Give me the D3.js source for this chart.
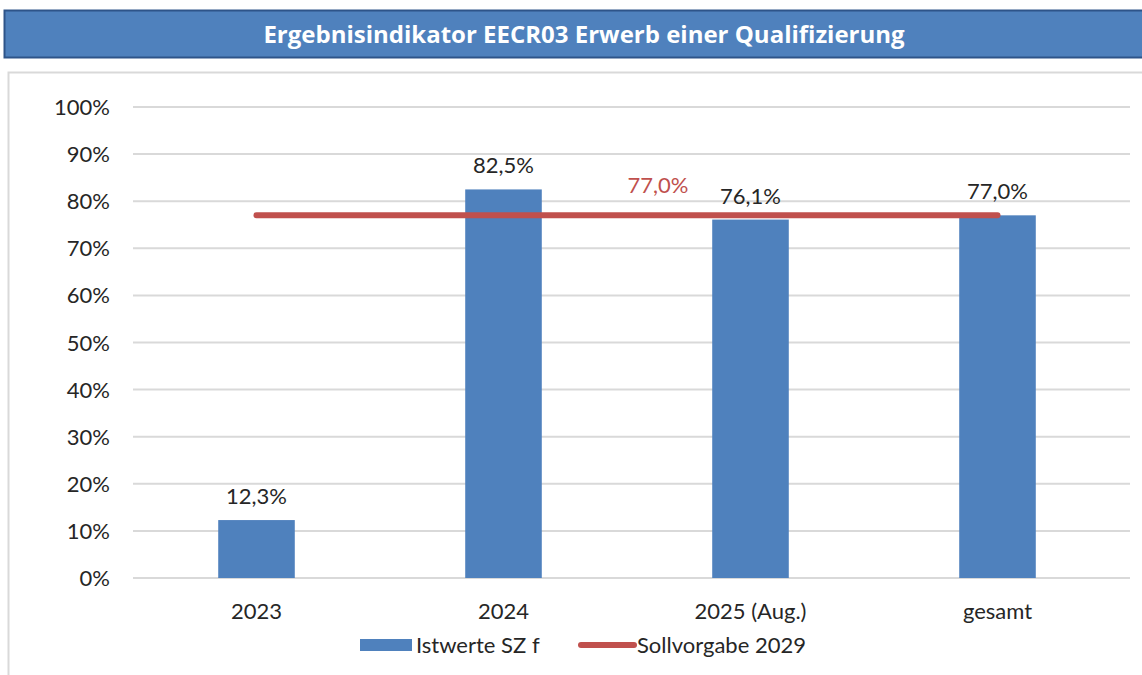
<!DOCTYPE html>
<html>
<head>
<meta charset="utf-8">
<script src="https://cdn.jsdelivr.net/npm/d3@7"></script>
<style>
  body { margin: 0; background: #fff; }
  text { font-family: Lato, "Open Sans", sans-serif; }
</style>
</head>
<body>
<svg id="chart" width="1142" height="675"></svg>
<script>
const categories = ["2023", "2024", "2025 (Aug.)", "gesamt"];
const istwerte = [12.3, 82.5, 76.1, 77.0];
const sollvorgabe = [77.0, 77.0, 77.0, 77.0];
const yTicks = [0, 10, 20, 30, 40, 50, 60, 70, 80, 90, 100];

const svg = d3.select("#chart");
const fmt = v => v.toFixed(1).replace(".", ",") + "%";
const fs = 22;

// title band
svg.append("rect")
  .attr("x", 4.5).attr("y", 10.5)
  .attr("width", 1140).attr("height", 47)
  .attr("fill", "#4f81bd")
  .attr("stroke", "#2e5489")
  .attr("stroke-width", 2);

svg.append("text")
  .text("Ergebnisindikator EECR03 Erwerb einer Qualifizierung")
  .attr("x", 584).attr("y", 43)
  .attr("text-anchor", "middle")
  .style("font-family", "'Open Sans', sans-serif")
  .style("font-weight", "bold")
  .style("font-size", "24px")
  .attr("fill", "#fff");

// chart frame
svg.append("path")
  .attr("d", "M8.5,680 V72.5 H1142")
  .attr("fill", "none")
  .attr("stroke", "#d9d9d9")
  .attr("stroke-width", 2);

const x = d3.scaleBand()
  .domain(categories)
  .range([133, 1121])
  .paddingInner(0.69)
  .paddingOuter(0.345);

const y = d3.scaleLinear()
  .domain([0, 100])
  .range([578, 107]);

// grid
svg.append("g")
  .selectAll("line")
  .data(yTicks)
  .join("line")
  .attr("x1", 133).attr("x2", 1130)
  .attr("y1", d => y(d)).attr("y2", d => y(d))
  .attr("stroke", "#d9d9d9")
  .attr("stroke-width", 2);

// y labels
svg.append("g")
  .selectAll("text")
  .data(yTicks)
  .join("text")
  .text(d => d + "%")
  .attr("x", 110)
  .attr("y", d => y(d) + 8)
  .attr("text-anchor", "end")
  .attr("font-size", fs)
  .attr("fill", "#262626");

// bars
svg.append("g")
  .selectAll("rect")
  .data(istwerte)
  .join("rect")
  .attr("x", (d, i) => x(categories[i]))
  .attr("y", d => y(d))
  .attr("width", x.bandwidth())
  .attr("height", d => y(0) - y(d))
  .attr("fill", "#4f81bd");

// bar labels
svg.append("g")
  .selectAll("text")
  .data(istwerte)
  .join("text")
  .text(d => fmt(d))
  .attr("x", (d, i) => x(categories[i]) + x.bandwidth() / 2)
  .attr("y", d => y(d) - 16)
  .attr("text-anchor", "middle")
  .attr("font-size", fs)
  .attr("fill", "#262626");

// target line
const line = d3.line()
  .x((d, i) => x(categories[i]) + x.bandwidth() / 2)
  .y(d => y(d));

svg.append("path")
  .datum(sollvorgabe)
  .attr("d", line)
  .attr("fill", "none")
  .attr("stroke", "#c0504d")
  .attr("stroke-width", 6)
  .attr("stroke-linecap", "round");

svg.append("text")
  .text(fmt(sollvorgabe[2]))
  .attr("x", 658)
  .attr("y", y(sollvorgabe[2]) - 22)
  .attr("text-anchor", "middle")
  .attr("font-size", fs)
  .attr("fill", "#c0504d");

// category labels
svg.append("g")
  .selectAll("text")
  .data(categories)
  .join("text")
  .text(d => d)
  .attr("x", d => x(d) + x.bandwidth() / 2)
  .attr("y", 619)
  .attr("text-anchor", "middle")
  .attr("font-size", fs)
  .attr("fill", "#262626");

// legend
const legend = svg.append("g");
legend.append("rect")
  .attr("x", 360).attr("y", 639)
  .attr("width", 52).attr("height", 12)
  .attr("fill", "#4f81bd");
legend.append("text")
  .text("Istwerte SZ f")
  .attr("x", 416).attr("y", 653)
  .attr("font-size", fs)
  .attr("fill", "#262626");
legend.append("line")
  .attr("x1", 581).attr("x2", 634)
  .attr("y1", 645).attr("y2", 645)
  .attr("stroke", "#c0504d")
  .attr("stroke-width", 6)
  .attr("stroke-linecap", "round");
legend.append("text")
  .text("Sollvorgabe 2029")
  .attr("x", 637).attr("y", 653)
  .attr("font-size", fs)
  .attr("fill", "#262626");
</script>
</body>
</html>
